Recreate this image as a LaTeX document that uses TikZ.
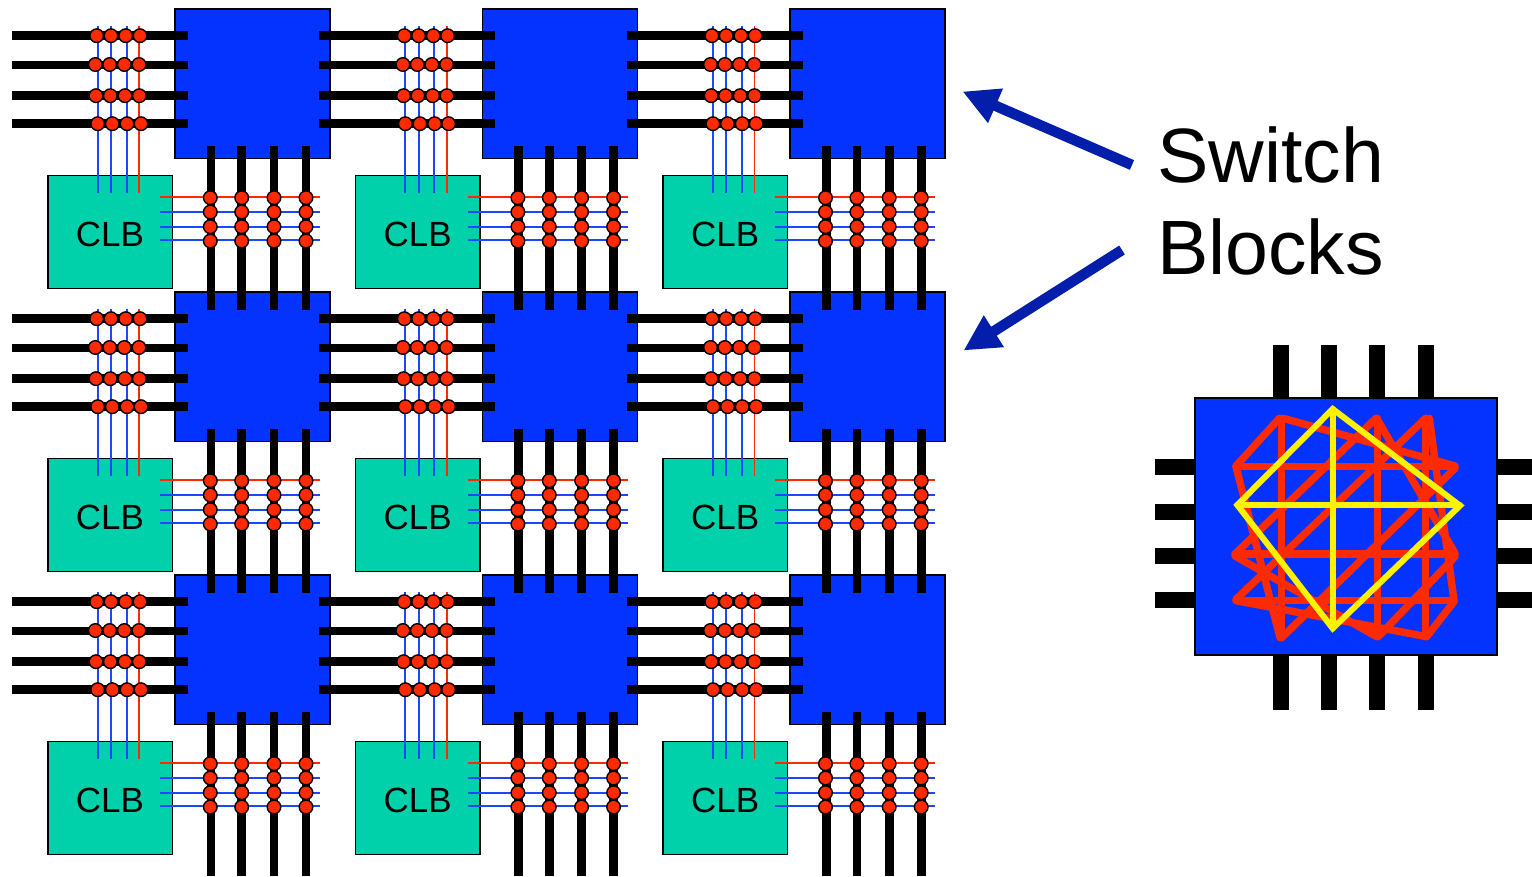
\documentclass[tikz,border=0pt]{standalone}
\usepackage{fontspec}
\setmainfont{Liberation Sans}
\usepackage{xcolor}
\usetikzlibrary{arrows.meta}
\definecolor{sbblue}{HTML}{0433FF}
\definecolor{clbgreen}{HTML}{00D1AA}
\definecolor{dotred}{HTML}{FF2A00}
\definecolor{arrowblue}{HTML}{021EAA}
\tikzset{
	switchblock/.style={
		draw=black, line width=1.5pt, fill=sbblue, minimum width=155pt, minimum height=149.5pt, inner sep=0pt
	},
	clb/.style={
		draw=black, line width=1.5pt, fill=clbgreen, minimum width=124.5pt, minimum height=113pt, inner sep=0pt,
		font=\fontsize{35}{40}\selectfont, text height=28pt, text depth=0pt
	},
	bigblock/.style={
		draw=black, line width=1.5pt, fill=sbblue, minimum width=302pt, minimum height=257pt, inner sep=0pt
	},
	bus/.style={line width=8.8pt, black},
	bigbus/.style={line width=16pt, black},
	thinblue/.style={line width=1.9pt, sbblue!90!white},
	thinred/.style={line width=1.9pt, dotred},
	crosspoint/.style={
		circle, draw=black, line width=1.4pt, fill=dotred, minimum size=13.6pt, inner sep=0pt
	},
	meshred/.style={line width=7.4pt, dotred, line cap=round},
	meshyellow/.style={line width=6pt, yellow, line cap=round},
	pointer/.style={
		line width=10.5pt, arrowblue, -{Triangle[length=36pt,width=35pt]}
	},
	caption/.style={
		anchor=base west, align=left, inner sep=0pt, font=\fontsize{77}{92}\selectfont
	}
}
\begin{document}
\begin{tikzpicture}[x=1pt,y=-1pt]
    \useasboundingbox (0,0) rectangle (1532,876);
    % blocks first, the wires run over them
    \foreach \r in {0,1,2}{
        \foreach \c in {0,1,2}{
            \node[switchblock] (sb-\c-\r) at ({252.3+\c*307.5},{83.6+\r*283}) {};
            \node[clb] (clb-\c-\r) at ({110+\c*307.6},{232+\r*283}) {CLB};
        }
    }
    \foreach \r in {0,1,2}{
        \foreach \c in {0,1,2}{
            \begin{scope}[shift={({\c*307.6},{\r*283})}]
                % long tracks
                \foreach \i/\y in {1/35.7,2/65,3/95.3,4/123.7}{
                    \coordinate (hw-\c-\r-\i) at (11.5,\y);
                    \coordinate (he-\c-\r-\i) at (187.5,\y);
                    \draw[bus] (hw-\c-\r-\i) -- (he-\c-\r-\i);
                }
                \foreach \i/\x in {1/211,2/241.7,3/274,4/306}{
                    \coordinate (vn-\c-\r-\i) at (\x,146);
                    \coordinate (vs-\c-\r-\i) at (\x,310);
                    \draw[bus] (vn-\c-\r-\i) -- (vs-\c-\r-\i);
                }
                % pins of the CLB
                \foreach \i/\x/\s in {1/97.7/thinblue,2/111/thinblue,3/126.7/thinblue,4/139.3/thinred}{
                    \coordinate (pn-\c-\r-\i) at (\x,26);
                    \coordinate (ps-\c-\r-\i) at (\x,193);
                    \draw[\s] (pn-\c-\r-\i) -- (ps-\c-\r-\i);
                }
                \foreach \i/\y/\s in {1/197.3/thinred,2/212.3/thinblue,3/227/thinblue,4/240.3/thinblue}{
                    \coordinate (pw-\c-\r-\i) at (160,\y);
                    \coordinate (pe-\c-\r-\i) at (320,\y);
                    \draw[\s] (pw-\c-\r-\i) -- (pe-\c-\r-\i);
                }
                % crosspoints
                \foreach \y/\xa/\xb/\xc/\xd in {35.7/96.7/111/125.7/140,64.5/95.3/109.7/124.3/139,95.7/96/110.3/125/139.3,123.7/97.7/112.3/127/141}{
                    \foreach \x in {\xa,\xb,\xc,\xd}{
                        \node[crosspoint] at (\x,\y) {};
                    }
                }
                \foreach \x in {210.3,241.7,274,306}{
                    \foreach \y in {197.7,212,226.7,241}{
                        \node[crosspoint] at (\x,\y) {};
                    }
                }
            \end{scope}
        }
    }

    % arrows and caption
    \coordinate (switch-from) at (1132,165);
    \coordinate (switch-to) at (962.5,91.5);
    \coordinate (blocks-from) at (1122,250);
    \coordinate (blocks-to) at (963.5,350.5);
    \draw[pointer] (switch-from) -- (switch-to);
    \draw[pointer] (blocks-from) -- (blocks-to);
    \node[caption] (caption) at (1157,274) {Switch\\Blocks};

    % enlarged switch block
    \foreach \i/\x in {1/1280.7,2/1329,3/1377,4/1425.7}{
        \coordinate (bign-\i) at (\x,344.5);
        \coordinate (bigs-\i) at (\x,709.5);
        \draw[bigbus] (bign-\i) -- (bigs-\i);
    }
    \foreach \i/\y in {1/467.3,2/511.7,3/555.7,4/600.3}{
        \coordinate (bigw-\i) at (1155,\y);
        \coordinate (bige-\i) at (1532,\y);
        \draw[bigbus] (bigw-\i) -- (bige-\i);
    }
    \node[bigblock] (bigsb) at (1346,526.5) {};
    \begin{scope}[shift={(1150,340)},x=0.33333pt,y=-0.33333pt]
        \foreach \a/\b in {{258,380}/{915,380},{255,642}/{915,642},{258,782}/{912,782},
                {395,235}/{395,893},{682,235}/{682,890},{827,235}/{827,890},
                {258,378}/{388,235},{255,642}/{678,235},{258,778}/{827,235},
                {395,893}/{915,385},{685,890}/{915,650},{830,890}/{912,785},
                {400,235}/{915,378},{258,380}/{390,893},{255,648}/{680,890},
                {258,782}/{830,890},{680,235}/{915,640},{838,235}/{912,782}}{
            \draw[meshred] (\a) -- (\b);
        }
        \draw[meshyellow] (548,207) -- (930,497) -- (548,865) -- (262,495) -- cycle;
        \draw[meshyellow] (262,495) -- (930,495);
        \draw[meshyellow] (548,207) -- (548,865);
    \end{scope}
\end{tikzpicture}
\end{document}
